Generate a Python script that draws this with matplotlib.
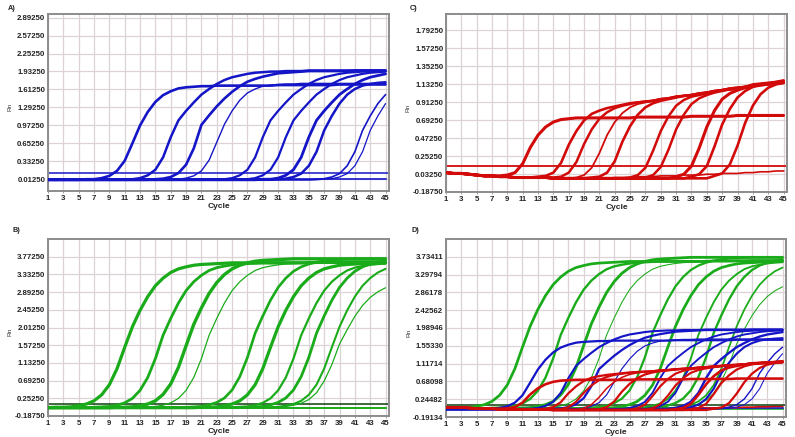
import matplotlib
matplotlib.use("Agg")
import matplotlib.pyplot as plt

plt.rcParams["font.family"] = ["Liberation Sans", "DejaVu Sans"]

# ---------------- data ----------------
cycles = list(range(1, 46))
cycle_ticks = [1, 3, 5, 7, 9, 11, 13, 15, 17, 19, 21, 23, 25, 27, 29, 31, 33, 35, 37, 39, 41, 43, 45]

# Panel A (blue) amplification curves, Rn per cycle
blue_zero15 = [0, 0, 0, 0, 0, 0, 0, 0, 0, 0, 0, 0, 0, 0, 0]
blue_a1 = [0, 0, 0, 0, 0, 0.01, 0.01, 0.03, 0.07, 0.16, 0.34, 0.65, 0.97, 1.21, 1.39,
           1.51, 1.58, 1.63, 1.65, 1.66, 1.67, 1.67, 1.68, 1.68, 1.68, 1.68, 1.68, 1.68, 1.68, 1.68,
           1.69, 1.69, 1.69, 1.69, 1.69, 1.69, 1.69, 1.69, 1.70, 1.70, 1.70, 1.70, 1.70, 1.70, 1.70]
blue_a2 = [0, 0, 0, 0, 0, 0, 0, 0, 0, 0, 0.01, 0.01, 0.03, 0.08, 0.18,
           0.40, 0.76, 1.06, 1.23, 1.38, 1.52, 1.62, 1.71, 1.78, 1.83, 1.86, 1.89, 1.91, 1.92, 1.93,
           1.93, 1.94, 1.94, 1.94, 1.95, 1.95, 1.95, 1.95, 1.95, 1.95, 1.95, 1.95, 1.95, 1.95, 1.95]
blue_a3 = [0, 0, 0, 0, 0, 0, 0, 0, 0, 0, 0, 0, 0, 0, 0.01,
           0.02, 0.05, 0.12, 0.27, 0.56, 0.98, 1.15, 1.31, 1.45, 1.57, 1.67, 1.75, 1.80, 1.84, 1.87,
           1.90, 1.91, 1.92, 1.93, 1.94, 1.94, 1.94, 1.94, 1.94, 1.94, 1.95, 1.95, 1.95, 1.95, 1.95]
blue_a4 = blue_zero15 + [0, 0.01, 0.01, 0.03, 0.07, 0.16, 0.35, 0.67, 0.99, 1.23, 1.42, 1.55, 1.62, 1.67, 1.69,
                         1.70, 1.71, 1.71, 1.72, 1.72, 1.72, 1.72, 1.72, 1.72, 1.72, 1.72, 1.72, 1.72, 1.72, 1.72]
blue_a5 = blue_zero15 + [0, 0, 0, 0, 0, 0, 0, 0.01, 0.01, 0.03, 0.08, 0.18, 0.40, 0.76, 1.06,
                         1.23, 1.38, 1.52, 1.62, 1.71, 1.78, 1.83, 1.86, 1.89, 1.91, 1.92, 1.93, 1.93, 1.94, 1.94]
blue_a6 = blue_zero15 + [0, 0, 0, 0, 0, 0, 0, 0, 0, 0, 0.01, 0.01, 0.03, 0.08, 0.18,
                         0.40, 0.76, 1.06, 1.23, 1.38, 1.52, 1.62, 1.71, 1.78, 1.83, 1.86, 1.89, 1.91, 1.92, 1.93]
blue_a7 = blue_zero15 + [0, 0, 0, 0, 0, 0, 0, 0, 0, 0, 0, 0, 0, 0.01, 0.01,
                         0.03, 0.08, 0.18, 0.40, 0.76, 1.06, 1.23, 1.38, 1.52, 1.62, 1.71, 1.78, 1.83, 1.86, 1.89]
blue_a8 = blue_zero15 + blue_zero15 + [0.01, 0.02, 0.05, 0.11, 0.25, 0.50, 0.88, 1.14, 1.36, 1.52, 1.62, 1.68, 1.71, 1.73, 1.74]
blue_a9 = blue_zero15 + blue_zero15 + [0, 0, 0, 0, 0, 0.01, 0.02, 0.05, 0.11, 0.25, 0.50, 0.88, 1.14, 1.36, 1.52]
blue_a10 = blue_zero15 + blue_zero15 + [0, 0, 0, 0, 0, 0, 0.01, 0.02, 0.05, 0.11, 0.25, 0.50, 0.88, 1.14, 1.36]
blue_ntc_row = [0.02, 0.02, 0.02, 0.02, 0.02, 0.02, 0.02, 0.02, 0.02, 0.02, 0.02, 0.02, 0.02, 0.02, 0.02]
blue_ntc = blue_ntc_row + blue_ntc_row + blue_ntc_row
blue_curves = [blue_a1, blue_a2, blue_a3, blue_a4, blue_a5, blue_a6, blue_a7, blue_a8, blue_a9, blue_a10]
blue_threshold = 0.12

# Panel B (green)
green_base15 = [0.02, 0.02, 0.02, 0.02, 0.02, 0.02, 0.02, 0.02, 0.02, 0.02, 0.02, 0.02, 0.02, 0.02, 0.02]
green_b1 = [0.02, 0.03, 0.03, 0.04, 0.07, 0.11, 0.19, 0.34, 0.59, 0.99, 1.52, 2.03, 2.44, 2.78, 3.05,
            3.24, 3.38, 3.47, 3.52, 3.56, 3.58, 3.59, 3.60, 3.61, 3.62, 3.62, 3.62, 3.62, 3.62, 3.62,
            3.62, 3.62, 3.62, 3.62, 3.62, 3.63, 3.63, 3.63, 3.63, 3.63, 3.64, 3.64, 3.64, 3.64, 3.64]
green_b2 = [0.02, 0.02, 0.02, 0.02, 0.02, 0.02, 0.03, 0.04, 0.05, 0.08, 0.14, 0.25, 0.45, 0.77, 1.24,
            1.82, 2.24, 2.62, 2.93, 3.15, 3.31, 3.43, 3.50, 3.54, 3.57, 3.59, 3.60, 3.61, 3.62, 3.62,
            3.62, 3.62, 3.62, 3.62, 3.63, 3.63, 3.63, 3.63, 3.64, 3.64, 3.64, 3.64, 3.64, 3.64, 3.64]
green_b3 = [0.02, 0.02, 0.02, 0.02, 0.02, 0.02, 0.02, 0.02, 0.02, 0.03, 0.03, 0.04, 0.07, 0.11, 0.19,
            0.35, 0.61, 1.02, 1.56, 2.09, 2.50, 2.86, 3.13, 3.33, 3.47, 3.56, 3.62, 3.66, 3.68, 3.69,
            3.70, 3.71, 3.72, 3.72, 3.72, 3.72, 3.72, 3.72, 3.72, 3.72, 3.72, 3.72, 3.72, 3.72, 3.72]
green_b4 = [0.02, 0.02, 0.02, 0.02, 0.02, 0.02, 0.02, 0.02, 0.02, 0.02, 0.02, 0.02, 0.03, 0.04, 0.05,
            0.08, 0.14, 0.25, 0.45, 0.77, 1.24, 1.82, 2.24, 2.62, 2.93, 3.15, 3.31, 3.43, 3.50, 3.54,
            3.57, 3.59, 3.60, 3.61, 3.62, 3.62, 3.62, 3.62, 3.62, 3.62, 3.62, 3.62, 3.62, 3.62, 3.62]
green_b5 = green_base15 + [0.02, 0.02, 0.02, 0.03, 0.04, 0.05, 0.09, 0.15, 0.26, 0.46, 0.79, 1.27, 1.87, 2.30, 2.69,
                           3.01, 3.24, 3.41, 3.52, 3.59, 3.64, 3.67, 3.69, 3.70, 3.71, 3.72, 3.72, 3.72, 3.72, 3.72]
green_b6 = green_base15 + [0.02, 0.02, 0.02, 0.02, 0.02, 0.03, 0.03, 0.04, 0.07, 0.11, 0.19, 0.34, 0.59, 0.99, 1.52,
                           2.03, 2.44, 2.78, 3.05, 3.24, 3.38, 3.47, 3.52, 3.56, 3.58, 3.59, 3.60, 3.61, 3.61, 3.62]
green_b7 = green_base15 + [0.02, 0.02, 0.02, 0.02, 0.02, 0.02, 0.02, 0.02, 0.02, 0.03, 0.04, 0.05, 0.08, 0.14, 0.25,
                           0.45, 0.77, 1.24, 1.82, 2.24, 2.62, 2.93, 3.15, 3.31, 3.43, 3.50, 3.54, 3.57, 3.59, 3.60]
green_b8 = green_base15 + [0.02, 0.02, 0.02, 0.02, 0.02, 0.02, 0.02, 0.02, 0.02, 0.02, 0.02, 0.03, 0.04, 0.05, 0.09,
                           0.15, 0.26, 0.46, 0.79, 1.27, 1.87, 2.30, 2.69, 3.01, 3.24, 3.41, 3.52, 3.59, 3.64, 3.67]
green_b9 = green_base15 + [0.02, 0.02, 0.02, 0.02, 0.02, 0.02, 0.02, 0.02, 0.02, 0.02, 0.02, 0.02, 0.02, 0.03, 0.03,
                           0.04, 0.07, 0.11, 0.19, 0.34, 0.59, 0.99, 1.52, 2.03, 2.44, 2.78, 3.05, 3.24, 3.38, 3.47]
green_b10 = green_base15 + [0.02, 0.02, 0.02, 0.02, 0.02, 0.02, 0.02, 0.02, 0.02, 0.02, 0.02, 0.02, 0.02, 0.02, 0.03,
                            0.04, 0.05, 0.08, 0.13, 0.22, 0.39, 0.68, 1.09, 1.60, 1.96, 2.29, 2.56, 2.76, 2.90, 3.00]
green_ntc = blue_zero15 + blue_zero15 + blue_zero15
green_curves = [green_b1, green_b2, green_b3, green_b4, green_b5, green_b6, green_b7, green_b8, green_b9, green_b10]
green_threshold = 0.11

# Panel C (red)
red_start15 = [0.05, 0.04, 0.04, 0.03, 0.02, 0.01, 0.01, 0.00, 0.00, -0.01, -0.01, -0.01, -0.01, -0.01, -0.02]
red_low15 = [-0.02, -0.02, -0.02, -0.02, -0.02, -0.02, -0.02, -0.02, -0.02, -0.02, -0.02, -0.02, -0.02, -0.02, -0.02]
red_c1 = [0.05, 0.04, 0.04, 0.03, 0.02, 0.01, 0.01, 0.01, 0.02, 0.05, 0.16, 0.36, 0.51, 0.61, 0.67,
          0.70, 0.71, 0.72, 0.72, 0.72, 0.72, 0.72, 0.72, 0.72, 0.72, 0.73, 0.73, 0.73, 0.73, 0.73,
          0.73, 0.73, 0.74, 0.74, 0.74, 0.74, 0.74, 0.74, 0.75, 0.75, 0.75, 0.75, 0.75, 0.75, 0.75]
red_c2 = [0.05, 0.04, 0.04, 0.03, 0.02, 0.01, 0.01, 0.00, 0.00, -0.01, -0.01, -0.01, 0.00, 0.01, 0.05,
          0.17, 0.39, 0.56, 0.69, 0.77, 0.81, 0.84, 0.86, 0.88, 0.90, 0.91, 0.92, 0.93, 0.95, 0.96,
          0.98, 0.99, 1.00, 1.02, 1.03, 1.05, 1.06, 1.08, 1.09, 1.10, 1.13, 1.14, 1.15, 1.16, 1.18]
red_c3 = [0.05, 0.04, 0.04, 0.03, 0.02, 0.01, 0.01, 0.00, 0.00, -0.01, -0.01, -0.01, -0.01, -0.01, -0.01,
          0.00, 0.05, 0.18, 0.40, 0.58, 0.71, 0.79, 0.84, 0.87, 0.89, 0.91, 0.92, 0.93, 0.95, 0.96,
          0.98, 0.99, 1.00, 1.02, 1.03, 1.05, 1.06, 1.08, 1.09, 1.10, 1.12, 1.13, 1.14, 1.16, 1.17]
red_c4 = red_start15 + [-0.02, -0.02, -0.01, 0.02, 0.11, 0.29, 0.51, 0.67, 0.78, 0.85, 0.89, 0.91, 0.93, 0.95, 0.96,
                        0.98, 0.99, 1.00, 1.02, 1.03, 1.04, 1.06, 1.07, 1.09, 1.10, 1.12, 1.13, 1.14, 1.15, 1.17]
red_c5 = red_start15 + [-0.02, -0.02, -0.02, -0.02, -0.01, 0.00, 0.05, 0.19, 0.43, 0.62, 0.76, 0.85, 0.90, 0.93, 0.95,
                        0.97, 0.99, 1.00, 1.01, 1.03, 1.04, 1.06, 1.07, 1.08, 1.10, 1.12, 1.13, 1.14, 1.15, 1.16]
red_c6 = red_start15 + [-0.02, -0.02, -0.02, -0.02, -0.02, -0.02, -0.02, -0.02, -0.02, -0.01, 0.02, 0.11, 0.32, 0.56, 0.74,
                        0.87, 0.94, 0.98, 1.00, 1.02, 1.04, 1.06, 1.07, 1.08, 1.10, 1.12, 1.13, 1.14, 1.15, 1.16]
red_c7 = red_start15 + [-0.02, -0.02, -0.02, -0.02, -0.02, -0.02, -0.02, -0.02, -0.02, -0.02, -0.02, -0.01, 0.02, 0.12, 0.33,
                        0.58, 0.76, 0.89, 0.96, 1.00, 1.03, 1.05, 1.07, 1.08, 1.09, 1.11, 1.12, 1.13, 1.14, 1.15]
red_c8 = red_start15 + red_low15 + [0.00, 0.03, 0.13, 0.35, 0.61, 0.81, 0.95, 1.02, 1.06, 1.09, 1.11, 1.13, 1.14, 1.15, 1.16]
red_c9 = red_start15 + red_low15 + [-0.02, -0.02, 0.00, 0.03, 0.13, 0.37, 0.64, 0.83, 0.97, 1.05, 1.10, 1.12, 1.13, 1.14, 1.15]
red_c10 = red_start15 + red_low15 + [-0.02, -0.02, -0.02, -0.02, -0.02, 0.01, 0.04, 0.15, 0.38, 0.66, 0.87, 1.01, 1.09, 1.13, 1.15]
red_ntc = red_start15 + [-0.02, -0.02, -0.02, -0.02, -0.02, -0.02, -0.02, -0.01, -0.01, -0.01, 0.00, 0.00, 0.00, 0.01, 0.01,
                         0.01, 0.02, 0.02, 0.02, 0.03, 0.03, 0.04, 0.04, 0.04, 0.05, 0.05, 0.06, 0.06, 0.07, 0.07]
red_curves = [red_c1, red_c2, red_c3, red_c4, red_c5, red_c6, red_c7, red_c8, red_c9, red_c10]
red_threshold = 0.125
combined_threshold = 0.105

# axis ticks
a_yticks = [0.0125, 0.3325, 0.6525, 0.9725, 1.2925, 1.6125, 1.9325, 2.2525, 2.5725, 2.8925]
a_ylabels = ["0.01250", "0.33250", "0.65250", "0.97250", "1.29250", "1.61250", "1.93250", "2.25250", "2.57250", "2.89250"]
b_yticks = [-0.1875, 0.2525, 0.6925, 1.1325, 1.5725, 2.0125, 2.4525, 2.8925, 3.3325, 3.7725]
b_ylabels = ["-0.18750", "0.25250", "0.69250", "1.13250", "1.57250", "2.01250", "2.45250", "2.89250", "3.33250", "3.77250"]
c_yticks = [-0.1875, 0.0325, 0.2525, 0.4725, 0.6925, 0.9125, 1.1325, 1.3525, 1.5725, 1.7925]
c_ylabels = ["-0.18750", "0.03250", "0.25250", "0.47250", "0.69250", "0.91250", "1.13250", "1.35250", "1.57250", "1.79250"]
d_yticks = [-0.19134, 0.24482, 0.68098, 1.11714, 1.55330, 1.98946, 2.42562, 2.86178, 3.29794, 3.73411]
d_ylabels = ["-0.19134", "0.24482", "0.68098", "1.11714", "1.55330", "1.98946", "2.42562", "2.86178", "3.29794", "3.73411"]

# ---------------- style ----------------
BLUE = "#1515c8"
RED = "#d20a0a"
GREEN = "#1aab1a"
DARKGREEN = "#0d3f0d"
blue_widths = [1.9, 1.8, 1.9, 1.0, 1.6, 1.6, 2.0, 1.8, 1.2, 0.9]
green_widths = [2.3, 2.0, 2.4, 0.9, 1.9, 2.3, 1.6, 2.0, 1.5, 0.9]
red_widths = [2.2, 1.9, 1.8, 1.3, 1.9, 1.8, 1.8, 2.2, 1.9, 1.9]

fig = plt.figure(figsize=(7.95, 4.37), dpi=100)
W, H = 795.0, 437.0


def make_axes(left, top, right, bottom):
    return fig.add_axes([left / W, 1 - bottom / H, (right - left) / W, (bottom - top) / H])


def style(ax, ylim, yticks, ylabels):
    ax.set_xlim(1, 45.45)
    ax.set_ylim(*ylim)
    ax.set_xticks(cycle_ticks)
    ax.set_xticklabels([str(t) for t in cycle_ticks])
    ax.set_yticks(yticks)
    ax.set_yticklabels(ylabels)
    ax.grid(True, color="#ddd3d7", lw=0.9)
    ax.set_axisbelow(True)
    for s in ax.spines.values():
        s.set_color("#8c8c8c")
        s.set_linewidth(1.4)
    ax.tick_params(axis="x", labelsize=5.6, colors="#8c8c8c", labelcolor="#222222",
                   length=1.5, width=0.6, pad=1.2)
    ax.tick_params(axis="y", labelsize=5.6, labelcolor="#222222", length=0, pad=2.0)
    for lab in ax.get_xticklabels() + ax.get_yticklabels():
        lab.set_fontweight("bold")
    ax.text(0.5, -0.088, "Cycle", transform=ax.transAxes, ha="center", va="center",
            fontsize=6.0, fontweight="bold", color="#222222")
    ax.text(-0.11, 0.475, "Rn", transform=ax.transAxes, ha="center", va="center",
            rotation=90, fontsize=4.6, color="#333333")


def draw(ax, curves, widths, color, scale=1.0):
    for ys, lw in zip(curves, widths):
        ax.plot(cycles, ys, color=color, lw=lw * scale, solid_joinstyle="round",
                solid_capstyle="round", zorder=3)


# A
axA = make_axes(48, 14, 389, 191)
axA.axhline(blue_threshold, color=BLUE, lw=1.1, zorder=2)
axA.plot(cycles, blue_ntc, color=BLUE, lw=1.2, zorder=2)
draw(axA, blue_curves, blue_widths, BLUE)
style(axA, (-0.2, 2.958), a_yticks, a_ylabels)

# C
axC = make_axes(446, 14, 787, 192)
axC.axhline(red_threshold, color=RED, lw=1.3, zorder=2)
axC.plot(cycles, red_ntc, color=RED, lw=1.2, zorder=2)
draw(axC, red_curves, red_widths, RED)
style(axC, (-0.1875, 1.993), c_yticks, c_ylabels)

# B
axB = make_axes(48, 239, 389, 416)
axB.axhline(green_threshold, color=DARKGREEN, lw=1.1, zorder=2)
axB.plot(cycles, green_ntc, color=GREEN, lw=1.4, zorder=2)
draw(axB, green_curves, green_widths, GREEN)
style(axB, (-0.1875, 4.2125), b_yticks, b_ylabels)

# D
axD = make_axes(446, 239, 786, 417)
axD.plot(cycles, green_ntc, color=GREEN, lw=1.2, zorder=2)
axD.plot(cycles, blue_ntc, color=BLUE, lw=1.2, zorder=2)
axD.plot(cycles, red_ntc, color=RED, lw=1.2, zorder=2)
axD.axhline(combined_threshold, color=DARKGREEN, lw=1.1, zorder=2)
draw(axD, green_curves, green_widths, GREEN, 0.85)
draw(axD, blue_curves, blue_widths, BLUE, 0.85)
draw(axD, red_curves, red_widths, RED, 0.85)
style(axD, (-0.19134, 4.17), d_yticks, d_ylabels)

# panel letters
for label, x, y in [("A)", 12, 8), ("C)", 414, 9), ("B)", 16, 230), ("D)", 415, 230)]:
    fig.text(x / W, 1 - y / H, label, ha="center", va="center", fontsize=5.2,
             fontweight="bold", color="#222222")

fig.savefig("out.png", dpi=100)
